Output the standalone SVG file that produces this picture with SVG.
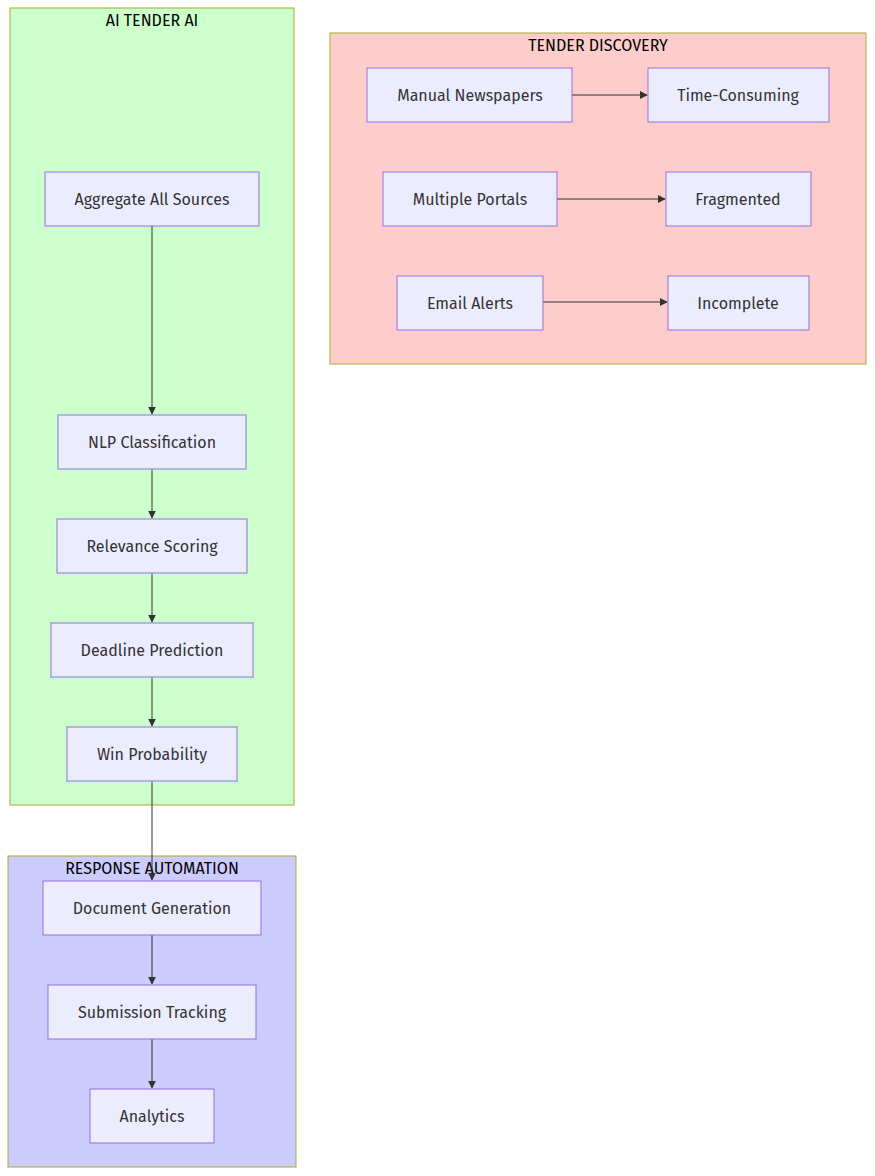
<svg xmlns="http://www.w3.org/2000/svg" width="875" height="1176" viewBox="0 0 875 1176">
<style>
.n rect{fill:#ECECFF;stroke:#9370DB;stroke-width:1}
.n text{font-family:"Fira Sans","Open Sans","Liberation Sans",sans-serif;font-size:16px;fill:#333;text-anchor:middle;dominant-baseline:central}
.c rect{stroke:#aaaa33;stroke-width:1}
.c text{font-family:"Fira Sans","Open Sans","Liberation Sans",sans-serif;font-size:16px;fill:#000;text-anchor:middle;dominant-baseline:central}
.e path{stroke:#333;stroke-width:1;fill:none;marker-end:url(#a)}
</style>
<defs><marker id="a" viewBox="0 0 10 10" refX="9" refY="5" markerWidth="8" markerHeight="8" orient="auto"><path d="M0,0L10,5L0,10z" fill="#333"/></marker></defs>
<g id="cl-ai" class="c"><rect x="10" y="8" width="284" height="797" fill="#ccffcc"/><text x="152" y="20">AI TENDER AI</text></g>
<g id="cl-td" class="c"><rect x="330" y="33" width="536" height="331" fill="#ffcccc"/><text x="598" y="45">TENDER DISCOVERY</text></g>
<g id="cl-ra" class="c"><rect x="8" y="856" width="288" height="311" fill="#ccccff"/><text x="152" y="868">RESPONSE AUTOMATION</text></g>
<g class="e" id="edges">
<path d="M152,226V414"/><path d="M152,469V518"/><path d="M152,573V622"/><path d="M152,677V726"/><path d="M152,781V880"/><path d="M152,935V984"/><path d="M152,1039V1088"/>
<path d="M572,95H647"/><path d="M557,199H665"/><path d="M543,302H667"/>
</g>
<g id="n1" class="n"><rect x="45" y="172" width="214" height="54"/><text x="152" y="199">Aggregate All Sources</text></g>
<g id="n2" class="n"><rect x="58" y="415" width="188" height="54"/><text x="152" y="442">NLP Classification</text></g>
<g id="n3" class="n"><rect x="57" y="519" width="190" height="54"/><text x="152" y="546">Relevance Scoring</text></g>
<g id="n4" class="n"><rect x="51" y="623" width="202" height="54"/><text x="152" y="650">Deadline Prediction</text></g>
<g id="n5" class="n"><rect x="67" y="727" width="170" height="54"/><text x="152" y="754">Win Probability</text></g>
<g id="n6" class="n"><rect x="43" y="881" width="218" height="54"/><text x="152" y="908">Document Generation</text></g>
<g id="n7" class="n"><rect x="48" y="985" width="208" height="54"/><text x="152" y="1012">Submission Tracking</text></g>
<g id="n8" class="n"><rect x="90" y="1089" width="124" height="54"/><text x="152" y="1116">Analytics</text></g>
<g id="n9" class="n"><rect x="367" y="68" width="205" height="54"/><text x="470" y="95">Manual Newspapers</text></g>
<g id="n10" class="n"><rect x="648" y="68" width="181" height="54"/><text x="738" y="95">Time-Consuming</text></g>
<g id="n11" class="n"><rect x="383" y="172" width="174" height="54"/><text x="470" y="199">Multiple Portals</text></g>
<g id="n12" class="n"><rect x="666" y="172" width="145" height="54"/><text x="738" y="199">Fragmented</text></g>
<g id="n13" class="n"><rect x="397" y="276" width="146" height="54"/><text x="470" y="303">Email Alerts</text></g>
<g id="n14" class="n"><rect x="668" y="276" width="141" height="54"/><text x="738" y="303">Incomplete</text></g>
</svg>
